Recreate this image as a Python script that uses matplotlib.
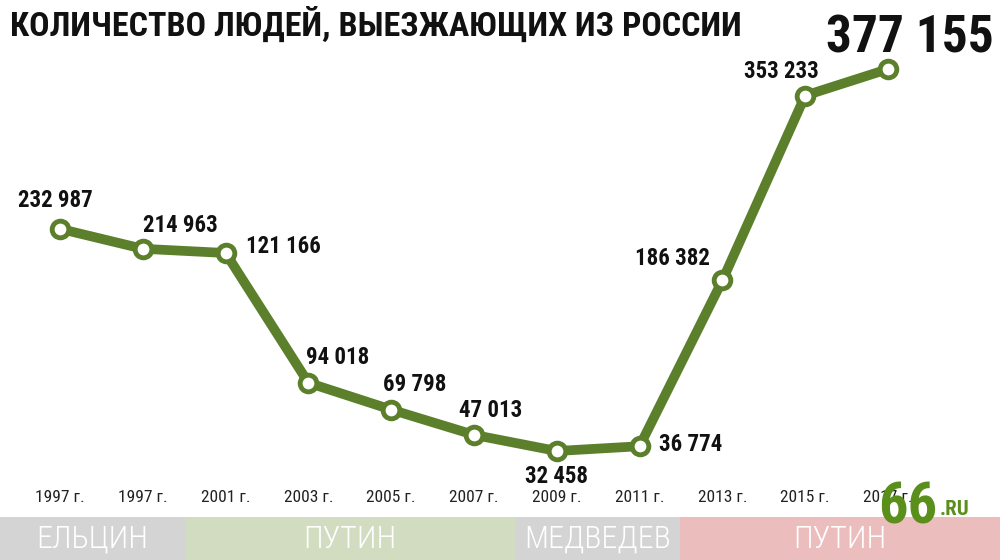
import matplotlib
matplotlib.use("Agg")
import matplotlib.pyplot as plt
from matplotlib import font_manager as fm

years = ["1997 г.", "1997 г.", "2001 г.", "2003 г.", "2005 г.", "2007 г.",
         "2009 г.", "2011 г.", "2013 г.", "2015 г.", "2017 г."]
values = [232987, 214963, 211166, 94018, 69798, 47013, 32458, 36774, 186382, 353233, 377155]
labels = ["232 987", "214 963", "121 166", "94 018", "69 798", "47 013",
          "32 458", "36 774", "186 382", "353 233", "377 155"]
eras = ["ЕЛЬЦИН", "ПУТИН", "МЕДВЕДЕВ", "ПУТИН"]
era_bounds = [(0, 185), (185, 515), (515, 680), (680, 1000)]
era_colors = ["#d4d4d4", "#d1dcc0", "#d4d4d4", "#ecbdbd"]
title = "КОЛИЧЕСТВО ЛЮДЕЙ, ВЫЕЗЖАЮЩИХ ИЗ РОССИИ"

names = {f.name for f in fm.fontManager.ttflist}
cond = [n for n in ["Liberation Sans Narrow", "DejaVu Sans Condensed", "Roboto Condensed"] if n in names]
FAM = cond + ["DejaVu Sans"]

GREEN = "#5b7f2b"

fig = plt.figure(figsize=(10, 5.6), dpi=100)
fig.patch.set_facecolor("white")
ax = fig.add_axes([0.06, 43 / 560, 0.828, 517 / 560])
ax.set_xlim(0, 10)
ax.set_ylim(-27100, 439500)
ax.axis("off")
x = list(range(len(values)))
ax.plot(x, values, color=GREEN, lw=7, solid_joinstyle="round", solid_capstyle="round",
        marker="o", ms=12, mfc="white", mec=GREEN, mew=3.5, clip_on=False, zorder=3)

offsets = [(-5, 28), (38, 23), (58, 6), (29, 25), (23, 25), (17, 24),
           (0, -25), (51, 2), (-50, 22), (-24, 24)]
for i, (dx, dy) in enumerate(offsets):
    ax.annotate(labels[i], (x[i], values[i]), xytext=(dx, dy), textcoords="offset pixels",
                ha="center", va="center", fontsize=16.5, fontweight="bold",
                family=FAM, color="#111111", zorder=5)
ax.annotate(labels[10], (x[10], values[10]), xytext=(22, 31), textcoords="offset pixels",
            ha="center", va="center", fontsize=37, fontweight="bold",
            family=FAM, color="#111111", zorder=5)

for i, yl in enumerate(years):
    ax.annotate(yl, (x[i], -27100), xytext=(0, 20), textcoords="offset pixels",
                ha="center", va="center", fontsize=12.5, family=FAM, color="#222222",
                annotation_clip=False, zorder=2)

fig.text(0.01, 0.955, title, fontsize=24.5, fontweight="bold", family=FAM,
         color="#111111", ha="left", va="center")

bx = fig.add_axes([0, 0, 1, 43 / 560])
bx.set_xlim(0, 1000)
bx.set_ylim(0, 1)
bx.axis("off")
for name, (a, b), c in zip(eras, era_bounds, era_colors):
    bx.axvspan(a, b, color=c, lw=0)
    bx.text((a + b) / 2, 0.48, name, ha="center", va="center", fontsize=23,
            family=FAM, fontweight="light", color="white")

fig.text(0.908, 0.093, "66", fontsize=42, fontweight="bold", family=FAM,
         color="#5a8f1c", ha="center", va="center", zorder=10)
fig.text(0.955, 0.09, ".RU", fontsize=15, fontweight="bold", family=FAM,
         color="#5a8f1c", ha="center", va="center", zorder=10)

fig.savefig("out.png", dpi=100, facecolor="white")
